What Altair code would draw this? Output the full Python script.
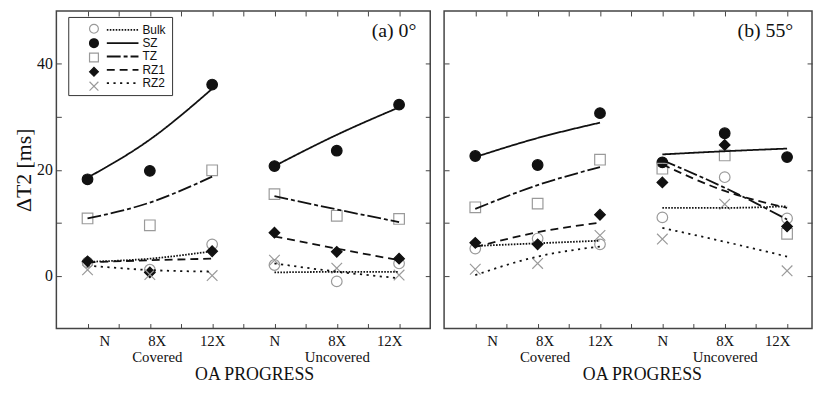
import altair as alt
import pandas as pd

series = ["Bulk", "SZ", "TZ", "RZ1", "RZ2"]
stages = ["N", "8X", "12X"]
groups = ["Covered", "Uncovered"]
panel_titles = ["(a) 0°", "(b) 55°"]

# Measured ΔT2 [ms]; order: Covered N, 8X, 12X, Uncovered N, 8X, 12X
a_bulk = [2.5, 1.1, 5.9, 2.0, -1.1, 2.3]
a_sz = [18.2, 19.8, 36.1, 20.7, 23.6, 32.3]
a_tz = [10.8, 9.5, 19.9, 15.4, 11.3, 10.7]
a_rz1 = [2.7, 0.6, 4.6, 8.1, 4.5, 3.2]
a_rz2 = [1.1, 0.2, 0.0, 2.9, 1.4, 0.1]

b_bulk = [5.1, 7.0, 5.9, 11.0, 18.6, 10.8]
b_sz = [22.6, 20.9, 30.7, 21.4, 26.9, 22.4]
b_tz = [12.9, 13.6, 21.9, 20.2, 22.7, 7.9]
b_rz1 = [6.2, 5.9, 11.5, 17.6, 24.7, 9.3]
b_rz2 = [1.2, 2.3, 7.6, 6.9, 13.5, 0.9]

# Fitted trend curves, read at N, 8X, 12X
a_fit_bulk = [2.6, 3.2, 4.6, 0.6, 0.7, 0.7]
a_fit_sz = [18.5, 25.7, 35.3, 20.7, 26.6, 31.8]
a_fit_tz = [10.8, 13.8, 18.7, 15.0, 12.5, 10.1]
a_fit_rz1 = [2.5, 2.9, 3.2, 7.4, 5.1, 2.9]
a_fit_rz2 = [1.9, 1.05, 0.75, 2.3, 0.75, -0.5]

b_fit_bulk = [5.6, 6.1, 6.6, 12.8, 12.8, 13.1]
b_fit_sz = [22.4, 26.0, 28.9, 22.9, 23.5, 24.0]
b_fit_tz = [12.6, 17.1, 20.5, 21.8, 16.6, 10.6]
b_fit_rz1 = [5.4, 8.2, 10.0, 21.0, 16.0, 12.8]
b_fit_rz2 = [0.1, 3.6, 5.5, 9.0, 6.4, 3.6]

SERIF = "Liberation Serif"
SANS = "Liberation Sans"
INK = "#111111"
GRAY = "#9a9a9a"
FRAME = "#444444"


def table(cols):
    rows = []
    for s, vals in zip(series, cols):
        for i, v in enumerate(vals):
            gi, si = divmod(i, 3)
            rows.append({"Series": s, "Line": s, "Group": groups[gi],
                         "Stage": stages[si], "pos": gi * 6 + si * 2, "value": v})
    return pd.DataFrame(rows)


# x-axis label expression built from the category lists
parts = []
for gi, g in enumerate(groups):
    for si, st in enumerate(stages):
        p = gi * 6 + si * 2
        lab = f"['{st}', '{g}']" if si == 1 else f"'{st}'"
        parts.append(f"datum.value == {p} ? {lab} : ")
label_expr = "".join(parts) + "''"

label_shift = {"condition": [
    {"test": "datum.value == 0", "value": 17},
    {"test": "datum.value == 2", "value": 7},
    {"test": "datum.value == 10", "value": -10},
], "value": 0}

shape_range = ["circle", "circle", "square", "diamond", "M-1,-1L1,1M-1,1L1,-1"]
fill_range = ["transparent", INK, "transparent", INK, "transparent"]
stroke_range = [GRAY, INK, GRAY, INK, GRAY]
dash_range = [[1.6, 1.4], [1, 0], [14, 3, 4, 3], [8, 5], [2.2, 4.5]]


def panel(pts, fits, title, width, xmax, first):
    height = 321
    xs = alt.Scale(domain=[-1, xmax], nice=False, zero=False)
    ys = alt.Scale(domain=[-10, 50], nice=False, zero=False)
    common = dict(domain=False, grid=False, tickSize=5, offset=-5,
                  tickColor=FRAME, tickWidth=1)
    top_axis = alt.Axis(orient="top", values=list(range(0, 11)), labels=False,
                        title=None, **common)
    right_axis = alt.Axis(orient="right", values=[0, 10, 20, 30, 40], labels=False,
                          title=None, **common)
    bottom_axis = alt.Axis(orient="bottom", values=list(range(0, 11)),
                           labelExpr=label_expr, labelOffset=label_shift,
                           labelFont=SERIF, labelFontSize=15, labelColor=INK,
                           labelPadding=5, labelLineHeight=16, labelOverlap=False,
                           labelFlush=False,
                           title="OA PROGRESS", titleFont=SERIF, titleFontSize=18,
                           titleFontWeight="normal", titleColor=INK, titlePadding=2,
                           titleX=200, **common)
    if first:
        left_axis = alt.Axis(orient="left", values=[0, 10, 20, 30, 40],
                             labelExpr="datum.value % 20 == 0 ? datum.label : ''",
                             labelFont=SERIF, labelFontSize=16, labelColor=INK,
                             labelPadding=4,
                             title="ΔT2 [ms]", titleFont=SERIF, titleFontSize=22,
                             titleFontWeight="normal", titleColor=INK, titlePadding=1,
                             **common)
        # marker column of the legend (its labels are hidden, lying under the line samples)
        leg_a = alt.Legend(orient="none", legendX=32, legendY=12, title=None,
                           padding=0, symbolSize=80, symbolStrokeWidth=1.2,
                           labelOpacity=0, labelOffset=7, labelFont=SANS,
                           labelFontSize=12, rowPadding=0.5)
        # line samples + names, with the framed box
        leg_b = alt.Legend(orient="none", legendX=12, legendY=6, title=None,
                           padding=6, strokeColor="#333333",
                           symbolType="M-2.667,0L2.667,0", symbolSize=144,
                           symbolOffset=42, symbolStrokeWidth=1.8,
                           symbolStrokeColor=INK, labelOffset=13, labelFont=SANS,
                           labelFontSize=12, labelColor=INK, rowPadding=0.5)
    else:
        left_axis = alt.Axis(orient="left", values=[0, 10, 20, 30, 40], labels=False,
                             title=None, **common)
        leg_a = None
        leg_b = None

    points = alt.Chart(pts).mark_point(size=115, opacity=1, strokeWidth=1.2).encode(
        x=alt.X("pos:Q", scale=xs, axis=top_axis),
        y=alt.Y("value:Q", scale=ys, axis=right_axis),
        shape=alt.Shape("Series:N", scale=alt.Scale(domain=series, range=shape_range), legend=leg_a),
        fill=alt.Fill("Series:N", scale=alt.Scale(domain=series, range=fill_range), legend=leg_a),
        stroke=alt.Stroke("Series:N", scale=alt.Scale(domain=series, range=stroke_range), legend=leg_a),
    )
    lines = alt.Chart(fits).mark_line(interpolate="monotone", strokeWidth=1.8, color=INK).encode(
        x=alt.X("pos:Q", scale=xs, axis=bottom_axis),
        y=alt.Y("value:Q", scale=ys, axis=left_axis),
        strokeDash=alt.StrokeDash("Line:N", sort=series, scale=alt.Scale(range=dash_range), legend=leg_b),
        detail="Group:N",
    )
    label = alt.Chart(pd.DataFrame({"t": [title]})).mark_text(
        align="right", baseline="alphabetic", font=SERIF, fontSize=20, color=INK
    ).encode(x=alt.value(364 if first else 353), y=alt.value(26), text="t:N")
    return alt.layer(points, lines, label).resolve_axis(
        x="independent", y="independent").properties(width=width, height=height)


left = panel(table([a_bulk, a_sz, a_tz, a_rz1, a_rz2]),
             table([a_fit_bulk, a_fit_sz, a_fit_tz, a_fit_rz1, a_fit_rz2]),
             panel_titles[0], 378, 11, True)
right = panel(table([b_bulk, b_sz, b_tz, b_rz1, b_rz2]),
              table([b_fit_bulk, b_fit_sz, b_fit_tz, b_fit_rz1, b_fit_rz2]),
              panel_titles[1], 372, 10.8, False)

chart = alt.hconcat(left, right, spacing=10).resolve_scale(
    shape="independent", fill="independent", stroke="independent", strokeDash="independent"
).properties(padding={"left": 12, "top": 7, "right": 0, "bottom": 0}).configure_view(
    stroke=FRAME, strokeWidth=1.5
)

chart.save("out.html", embed_options={"renderer": "svg", "actions": False})
